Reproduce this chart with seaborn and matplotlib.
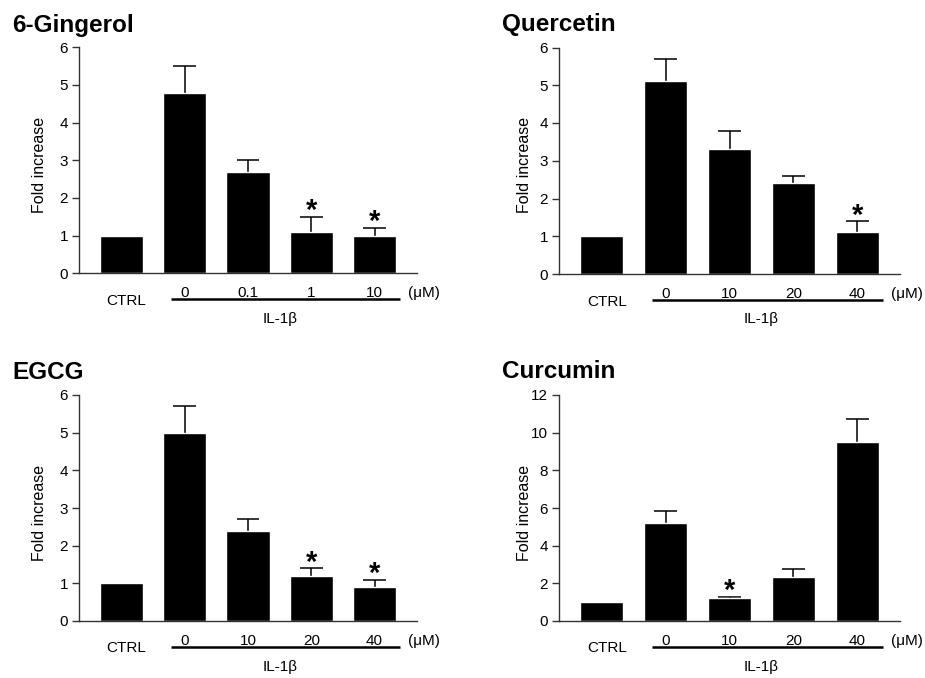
import numpy as np
import pandas as pd
import seaborn as sns
import matplotlib
matplotlib.use("Agg")
import matplotlib.pyplot as plt
import matplotlib.transforms as mtransforms

# ---------------- data ----------------
titles = ["6-Gingerol", "Quercetin", "EGCG", "Curcumin"]

gingerol_labels = ["CTRL", "0", "0.1", "1", "10"]
gingerol_mean = [1.0, 4.8, 2.7, 1.1, 1.0]
gingerol_err = [0.0, 0.7, 0.3, 0.4, 0.2]
gingerol_star = [False, False, False, True, True]

quercetin_labels = ["CTRL", "0", "10", "20", "40"]
quercetin_mean = [1.0, 5.1, 3.3, 2.4, 1.1]
quercetin_err = [0.0, 0.6, 0.5, 0.2, 0.3]
quercetin_star = [False, False, False, False, True]

egcg_labels = ["CTRL", "0", "10", "20", "40"]
egcg_mean = [1.0, 5.0, 2.4, 1.2, 0.9]
egcg_err = [0.0, 0.7, 0.3, 0.2, 0.2]
egcg_star = [False, False, False, True, True]

curcumin_labels = ["CTRL", "0", "10", "20", "40"]
curcumin_mean = [1.0, 5.2, 1.2, 2.35, 9.5]
curcumin_err = [0.0, 0.65, 0.1, 0.4, 1.2]
curcumin_star = [False, False, True, False, False]

y_ticks_small = [0, 1, 2, 3, 4, 5, 6]
y_ticks_large = [0, 2, 4, 6, 8, 10, 12]

ylabel = "Fold increase"
group_label = "IL-1β"
unit_label = "(μM)"

# ---------------- style ----------------
sns.set_style("ticks")
plt.rcParams["font.family"] = ["Liberation Sans", "DejaVu Sans"]
plt.rcParams["text.color"] = "black"
plt.rcParams["axes.labelcolor"] = "black"
plt.rcParams["xtick.color"] = "black"
plt.rcParams["ytick.color"] = "black"

fig = plt.figure(figsize=(9.25, 6.78), dpi=100)

panels = [
    (titles[0], gingerol_labels, gingerol_mean, gingerol_err, gingerol_star, y_ticks_small),
    (titles[1], quercetin_labels, quercetin_mean, quercetin_err, quercetin_star, y_ticks_small),
    (titles[2], egcg_labels, egcg_mean, egcg_err, egcg_star, y_ticks_small),
    (titles[3], curcumin_labels, curcumin_mean, curcumin_err, curcumin_star, y_ticks_large),
]

W, H = 925.0, 678.0
rects_px = [
    (79, 47.3, 417, 273.3),
    (559, 47.5, 900, 274),
    (79, 395, 417, 621),
    (559, 395, 900, 621),
]
title_px = [(12, 32), (502, 31), (12, 379), (502, 378)]
ylabel_dx = [32, 27, 32, 27]
cap_half = 0.18

for k, (title, labels, mean, err, star, yt) in enumerate(panels):
    l, t, r, b = rects_px[k]
    ax = fig.add_axes([l / W, 1 - b / H, (r - l) / W, (b - t) / H])
    df = pd.DataFrame({"dose": labels, "value": mean})
    sns.barplot(data=df, x="dose", y="value", order=labels, color="black",
                saturation=1, width=0.68, errorbar=None, ax=ax, zorder=2)
    xs = np.arange(len(labels))
    mean_a = np.asarray(mean)
    top = mean_a + np.asarray(err)
    has = np.asarray(err) > 0
    ax.vlines(xs[has], mean_a[has], top[has], color="black", lw=1.1, zorder=1)
    ax.hlines(top[has], xs[has] - cap_half, xs[has] + cap_half, color="black",
              lw=1.1, zorder=1)
    for i in range(len(labels)):
        if star[i]:
            ax.annotate("*", (xs[i], top[i]), xytext=(0, -6),
                        textcoords="offset points", ha="center", va="bottom",
                        fontsize=21, fontweight="bold", annotation_clip=False)
    ax.set_xlim(-0.67, len(labels) - 1 + 0.67)
    ax.set_ylim(yt[0], yt[-1])
    ax.set_yticks(yt)
    ax.tick_params(axis="y", length=5, width=1, color="#333333", pad=3, labelsize=11)
    ax.tick_params(axis="x", length=0, labelbottom=False)
    ax.set_xlabel("")
    ax.set_ylabel(ylabel, fontsize=11.5)
    ax.yaxis.set_label_coords(-ylabel_dx[k] / (r - l), 0.48)
    for s in ["top", "right"]:
        ax.spines[s].set_visible(False)
    for s in ["left", "bottom"]:
        ax.spines[s].set_color("#333333")
        ax.spines[s].set_linewidth(1)

    hpx = b - t
    trans = mtransforms.blended_transform_factory(ax.transData, ax.transAxes)
    for i, lab in enumerate(labels):
        if i == 0:
            ax.text(xs[i] + 0.08, -27.5 / hpx, lab, transform=trans, ha="center",
                    va="center", fontsize=11)
        else:
            ax.text(xs[i], -20 / hpx, lab, transform=trans, ha="center",
                    va="center", fontsize=11)
    ax.plot([0.78, 4.4], [-26 / hpx, -26 / hpx], transform=trans, color="black",
            lw=1.8, clip_on=False, solid_capstyle="butt")
    ax.text(2.5, -45.5 / hpx, group_label, transform=trans, ha="center",
            va="center", fontsize=11)
    ax.text(4.53, -20 / hpx, unit_label, transform=trans, ha="left",
            va="center", fontsize=11)

    tx, ty = title_px[k]
    fig.text(tx / W, 1 - ty / H, title, ha="left", va="baseline",
             fontsize=17.5, fontweight="bold")

fig.savefig("out.png", dpi=100)
